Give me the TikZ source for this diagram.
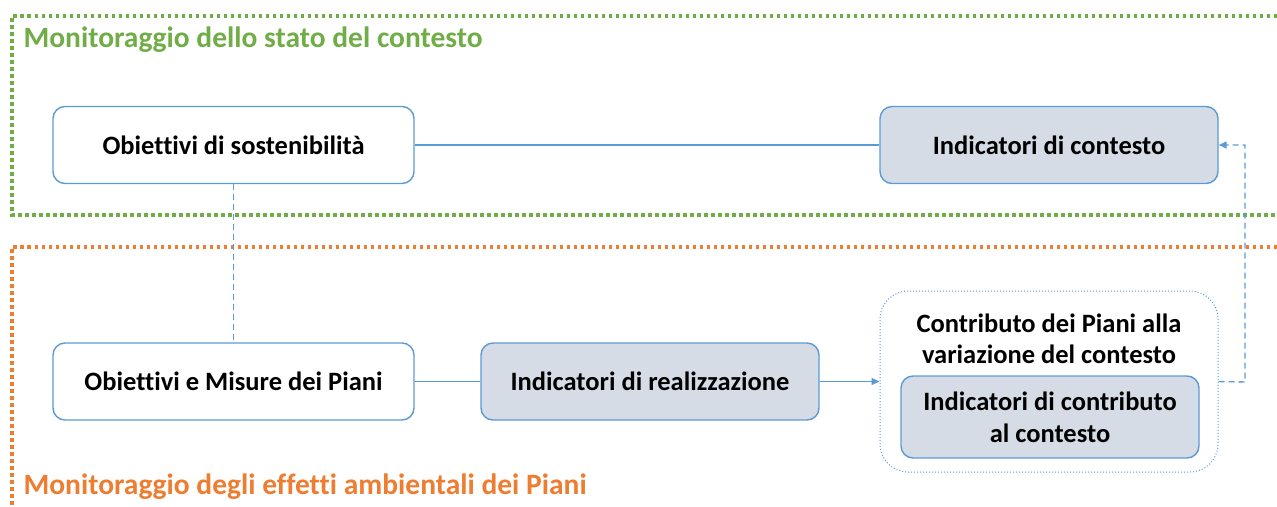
\documentclass[tikz,border=0pt]{standalone}
\usepackage{fontspec}
\setmainfont[Ligatures=NoCommon]{Carlito}
\usetikzlibrary{arrows.meta, positioning}

\definecolor{boxblue}{RGB}{91,155,213}
\definecolor{boxfill}{RGB}{214,220,229}
\definecolor{ctxgreen}{RGB}{112,173,71}
\definecolor{efforange}{RGB}{237,125,49}

\tikzset{
	plainbox/.style={draw=boxblue, line width=1.4pt, rounded corners=12pt, fill=white,
		minimum width=361pt, minimum height=77pt, align=center,
		font=\fontsize{26.5}{32}\selectfont\bfseries},
	indbox/.style={plainbox, fill=boxfill, minimum width=338pt},
	link/.style={draw=boxblue, line width=1.4pt},
	dashlink/.style={link, dash pattern=on 6pt off 4pt},
	frame/.style={line width=3.5pt, dash pattern=on 3.5pt off 3.5pt}
}

\begin{document}
\begin{tikzpicture}[x=1pt, y=-1pt]
	\useasboundingbox (0,0) rectangle (1277,506);

	% outer frames
	\draw[frame, ctxgreen] (1277,16) -- (12,16) -- (12,215) -- (1277,215);
	\draw[frame, efforange] (1277,247) -- (12,247) -- (12,506);

	\node[anchor=west, text=ctxgreen, font=\fontsize{29.5}{34}\selectfont\bfseries]
		(ctxtitle) at (20,40) {Monitoraggio dello stato del contesto};
	\node[anchor=west, text=efforange, font=\fontsize{29.5}{34}\selectfont\bfseries]
		(efftitle) at (20,487) {Monitoraggio degli effetti ambientali dei Piani};

	% boxes
	\node[plainbox] (sosten) at (233.5,145) {Obiettivi di sostenibilità};
	\node[indbox]   (contesto) at (1049,145) {Indicatori di contesto};
	\node[plainbox] (misure) at (233.5,381.5) {Obiettivi e Misure dei Piani};
	\node[indbox]   (realiz) at (650,381.5) {Indicatori di realizzazione};

	\node[draw=boxblue, line width=1pt, dotted, rounded corners=28pt,
		minimum width=338pt, minimum height=181pt] (contrib) at (1049,381.5) {};
	\node[font=\fontsize{26.5}{31}\selectfont\bfseries, align=center]
		(contribtxt) at (1049,338.5) {Contributo dei Piani alla\\variazione del contesto};
	\node[indbox, minimum width=298pt, minimum height=82pt]
		(contribind) at (1050,417) {Indicatori di contributo\\al contesto};

	% connectors
	\draw[link] (sosten) -- (contesto);
	\draw[dashlink] (sosten) -- (misure);
	\draw[link] (misure) -- (realiz);
	\draw[link, -{Triangle[length=8pt, width=7pt]}] (realiz) -- (contrib);
	\coordinate (bend) at (1245,382);
	\draw[dashlink, -{Triangle[length=8pt, width=7pt]}]
		(contrib.east) -- (bend) |- (contesto.east);
\end{tikzpicture}
\end{document}
